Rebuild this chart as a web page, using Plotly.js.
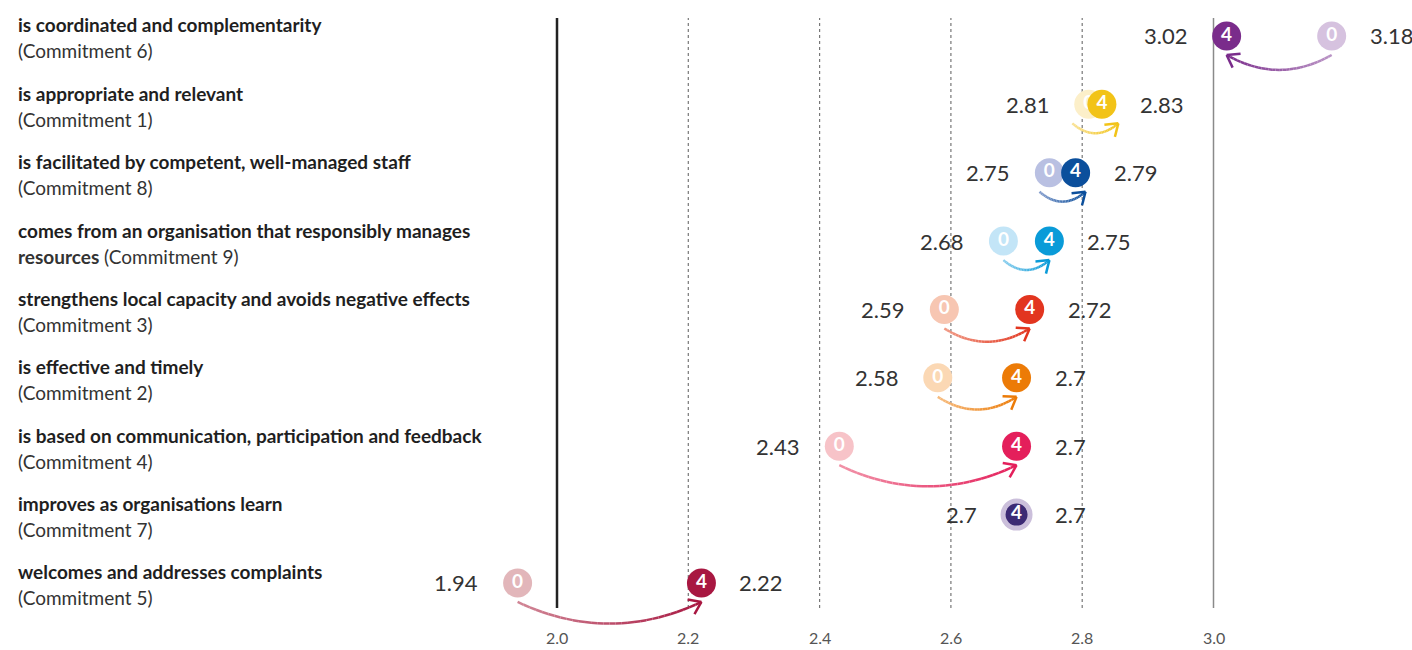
<!DOCTYPE html>
<html>
<head>
<meta charset="utf-8">
<script src="https://cdn.plot.ly/plotly-3.0.1.min.js"></script>
<style>html,body{margin:0;padding:0;background:#fff;}#chart{width:1412px;height:650px;}</style>
</head>
<body>
<div id="chart"></div>
<script>
// ---- data ----
const statements = [
  "is coordinated and complementarity",
  "is appropriate and relevant",
  "is facilitated by competent, well-managed staff",
  "comes from an organisation that responsibly manages|resources",
  "strengthens local capacity and avoids negative effects",
  "is effective and timely",
  "is based on communication, participation and feedback",
  "improves as organisations learn",
  "welcomes and addresses complaints"
];
const commitments = [
  "(Commitment 6)", "(Commitment 1)", "(Commitment 8)", "(Commitment 9)", "(Commitment 3)",
  "(Commitment 2)", "(Commitment 4)", "(Commitment 7)", "(Commitment 5)"
];
const scoreBefore = [3.18, 2.81, 2.75, 2.68, 2.59, 2.58, 2.43, 2.7, 1.94];  // "0" marker
const scoreAfter  = [3.02, 2.83, 2.79, 2.75, 2.72, 2.7, 2.7, 2.7, 2.22];    // "4" marker
const markerBeforeLabel = "0";
const markerAfterLabel = "4";
const colorsBefore = ["#D6C2DF","#FCEFC9","#B9C0E2","#C3E5F7","#F7C6B2","#FBD8B4","#F7C3C8","#CBBFDB","#E2B6BA"];
const colorsAfter  = ["#7A2C8B","#F2C318","#0B4F9C","#0A9BD8","#E2351F","#EC7B07","#E41F5B","#3C2A74","#A81741"];
const tickVals = [2.0, 2.2, 2.4, 2.6, 2.8, 3.0];
const tickText = ["2.0", "2.2", "2.4", "2.6", "2.8", "3.0"];
const dottedGrid = [2.2, 2.4, 2.6, 2.8];

// ---- layout geometry ----
const W = 1412, H = 650;
const M = {l: 400, r: 12, t: 18, b: 8};
const plotW = W - M.l - M.r, plotH = H - M.t - M.b;
const pxPerUnit = 656.5;
const xr = [2.0 - (557 - M.l) / pxPerUnit, 0];
xr[1] = xr[0] + plotW / pxPerUnit;
const pxPerRow = 68.375;
const yTop = -0.263;
const yr = [yTop + plotH / pxPerRow, yTop];
const gridBottom = (H - M.b - 608) / plotH;   // paper fraction where reference lines stop
const tickLabelY = (H - M.b - 637) / plotH;
const rows = statements.map((_, i) => i);
const FONT = "Lato, 'Open Sans', sans-serif";

function hexToRgb(h){h=h.replace('#','');return [0,2,4].map(k=>parseInt(h.substr(k,2),16));}
function mix(c1,c2,t){const a=hexToRgb(c1),b=hexToRgb(c2);return 'rgb('+a.map((v,k)=>Math.round(v+(b[k]-v)*t)).join(',')+')';}

const shapes = [];
// vertical reference lines
dottedGrid.forEach(v => shapes.push({type:'line', xref:'x', yref:'paper', x0:v, x1:v, y0:gridBottom, y1:1, layer:'below',
  line:{color:'#777', width:1.2, dash:'dot'}}));
shapes.push({type:'line', xref:'x', yref:'paper', x0:tickVals[0], x1:tickVals[0], y0:gridBottom, y1:1, layer:'below', line:{color:'#222', width:2.5}});
shapes.push({type:'line', xref:'x', yref:'paper', x0:tickVals[5], x1:tickVals[5], y0:gridBottom, y1:1, layer:'below', line:{color:'#8a8a8a', width:1.5}});

// curved gradient arrows from "0" to "4"
rows.forEach(i => {
  const b = scoreBefore[i], a = scoreAfter[i];
  if (b === a) return;
  let ps = b * pxPerUnit, pe = a * pxPerUnit;
  const dir = Math.sign(pe - ps);
  if (Math.abs(pe - ps) < 46) { const mid = (ps + pe) / 2; ps = mid - dir * 23; pe = mid + dir * 23; }
  const span = Math.abs(pe - ps);
  const y0 = 19, sag = 6 + 0.085 * span;
  const P0 = [ps, y0], P2 = [pe, y0], C = [(ps + pe) / 2, y0 + 2 * sag];
  const N = 30;
  const pts = [];
  for (let k = 0; k <= N; k++) {
    const t = k / N, u = 1 - t;
    pts.push([u*u*P0[0] + 2*u*t*C[0] + t*t*P2[0], u*u*P0[1] + 2*u*t*C[1] + t*t*P2[1]]);
  }
  const toX = px => px / pxPerUnit, toY = py => i + py / pxPerRow;
  for (let k = 0; k < N; k++) {
    const col = mix(colorsBefore[i], colorsAfter[i], 0.3 + 0.7 * (k + 0.5) / N);
    shapes.push({type:'line', xref:'x', yref:'y', x0:toX(pts[k][0]), y0:toY(pts[k][1]), x1:toX(pts[k+1][0]), y1:toY(pts[k+1][1]),
      layer:'above', line:{color:col, width:2.5}});
  }
  // open arrowhead
  let bx = C[0] - P2[0], by = C[1] - P2[1];
  const len = Math.hypot(bx, by); bx /= len; by /= len;
  [35, -35].forEach(deg => {
    const r = deg * Math.PI / 180;
    const lx = bx * Math.cos(r) - by * Math.sin(r), ly = bx * Math.sin(r) + by * Math.cos(r);
    shapes.push({type:'line', xref:'x', yref:'y', x0:toX(P2[0]), y0:toY(P2[1]), x1:toX(P2[0] + lx * 14), y1:toY(P2[1] + ly * 14),
      layer:'above', line:{color:colorsAfter[i], width:2.5}});
  });
});

const annotations = [];
// category labels (two lines)
rows.forEach(i => {
  const parts = statements[i].split('|');
  const line1 = '<b>' + parts[0] + '</b>';
  const line2 = (parts.length > 1 ? '<b>' + parts[1] + '</b> ' : '') + commitments[i];
  const xpaper = (16 - M.l) / plotW;
  annotations.push({xref:'paper', yref:'y', x:xpaper, y:i, xanchor:'left', yanchor:'middle', yshift:11, showarrow:false,
    text:line1, align:'left', font:{family:FONT, size:19, color:'#1f1f1f'}});
  annotations.push({xref:'paper', yref:'y', x:xpaper, y:i, xanchor:'left', yanchor:'middle', yshift:-15, showarrow:false,
    text:line2, align:'left', font:{family:FONT, size:19, color:'#333'}});
});
// value labels
rows.forEach(i => {
  const lo = Math.min(scoreBefore[i], scoreAfter[i]), hi = Math.max(scoreBefore[i], scoreAfter[i]);
  annotations.push({xref:'x', yref:'y', x:lo, y:i, xanchor:'right', yanchor:'middle', xshift:-38, showarrow:false,
    text:String(lo), font:{family:FONT, size:22, color:'#333'}});
  annotations.push({xref:'x', yref:'y', x:hi, y:i, xanchor:'left', yanchor:'middle', xshift:36, showarrow:false,
    text:String(hi), font:{family:FONT, size:22, color:'#333'}});
});
// axis tick labels
tickVals.forEach((v, k) => annotations.push({xref:'x', yref:'paper', x:v, y:tickLabelY, xanchor:'center', yanchor:'middle',
  showarrow:false, text:tickText[k], font:{family:FONT, size:16, color:'#555'}}));

const traces = [
  {type:'scatter', mode:'markers+text', x:scoreBefore, y:rows, text:rows.map(() => '<b>' + markerBeforeLabel + '</b>'),
   textposition:'middle center', textfont:{family:FONT, size:19, color:'#fff'},
   marker:{size:29, color:colorsBefore, opacity:1, line:{width:0}}, opacity:1, hoverinfo:'skip', showlegend:false, cliponaxis:false},
  {type:'scatter', mode:'markers+text', x:scoreAfter, y:rows, text:rows.map(() => '<b>' + markerAfterLabel + '</b>'),
   textposition:'middle center', textfont:{family:FONT, size:19, color:'#fff'},
   marker:{size:rows.map(i => scoreBefore[i] === scoreAfter[i] ? 27 : 29), color:colorsAfter, opacity:1,
     line:{width:rows.map(i => scoreBefore[i] === scoreAfter[i] ? 5 : 0), color:colorsBefore}},
   opacity:1, hoverinfo:'skip', showlegend:false, cliponaxis:false}
];

const layout = {
  width:W, height:H, margin:M, paper_bgcolor:'#fff', plot_bgcolor:'#fff',
  showlegend:false, hovermode:false,
  xaxis:{range:xr, tickvals:tickVals, showticklabels:false, showgrid:false, zeroline:false, showline:false, ticks:'', fixedrange:true},
  yaxis:{range:yr, visible:false, showgrid:false, zeroline:false, fixedrange:true},
  shapes:shapes, annotations:annotations
};
Plotly.newPlot('chart', traces, layout, {staticPlot:true, displayModeBar:false});
</script>
</body>
</html>
